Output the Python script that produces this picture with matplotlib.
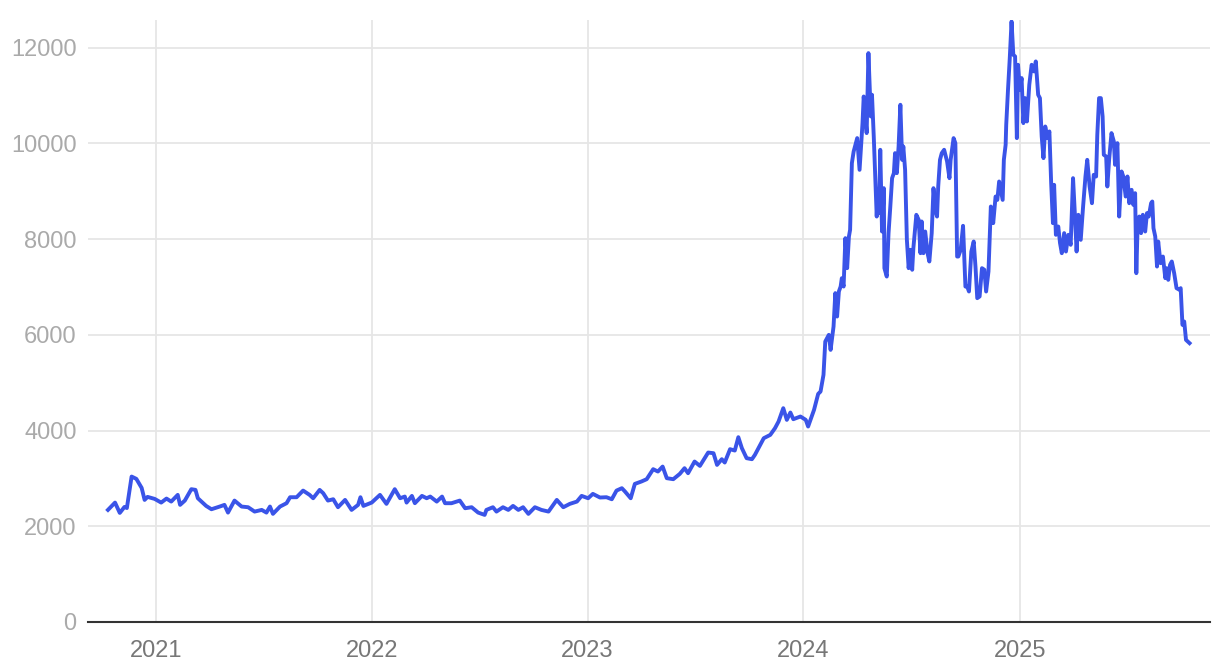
import matplotlib
matplotlib.use('Agg')
import matplotlib.pyplot as plt
import pandas as pd

# readings per year: month-day, value
days_2020 = ['10-12', '10-24', '11-01', '11-09', '11-13', '11-21', '11-29', '12-08', '12-13', '12-18', '12-30']
vals_2020 = [2341, 2494, 2278, 2404, 2380, 3038, 2990, 2801, 2550, 2613, 2571]

days_2021 = ['01-10', '01-19', '01-27', '02-07', '02-11', '02-19', '03-02', '03-09', '03-13', '03-27',
             '04-05', '04-19', '04-27', '05-03', '05-14', '05-26', '06-06', '06-17', '06-29', '07-07',
             '07-13', '07-18', '07-30', '08-10', '08-16', '08-27', '09-07', '09-18', '09-24', '10-05',
             '10-11', '10-19', '10-28', '11-05', '11-17', '11-28', '12-09', '12-13', '12-18']
vals_2021 = [2494, 2578, 2515, 2655, 2446, 2536, 2774, 2760, 2585, 2425,
             2355, 2411, 2446, 2285, 2536, 2411, 2397, 2306, 2341, 2285,
             2411, 2258, 2411, 2481, 2606, 2606, 2745, 2655, 2585, 2759,
             2690, 2536, 2564, 2397, 2550, 2341, 2446, 2606, 2425]

days_2022 = ['01-01', '01-15', '01-26', '02-09', '02-18', '02-26', '03-01', '03-10', '03-15', '03-27',
             '04-04', '04-10', '04-21', '04-30', '05-05', '05-16', '05-30', '06-08', '06-19', '06-30',
             '07-11', '07-14', '07-25', '07-31', '08-11', '08-20', '08-28', '09-06', '09-14', '09-23',
             '10-04', '10-15', '10-27', '11-10', '11-21', '12-02', '12-14', '12-22']
vals_2022 = [2494, 2655, 2467, 2774, 2585, 2620, 2494, 2634, 2481, 2634,
             2585, 2620, 2515, 2620, 2481, 2481, 2536, 2376, 2397, 2285,
             2237, 2341, 2397, 2306, 2397, 2341, 2425, 2341, 2397, 2258,
             2397, 2341, 2306, 2550, 2397, 2467, 2515, 2634]

days_2023 = ['01-02', '01-10', '01-22', '02-02', '02-11', '02-19', '02-28', '03-05', '03-15', '03-22',
             '04-02', '04-11', '04-22', '04-30', '05-08', '05-15', '05-26', '06-06', '06-14', '06-20',
             '07-01', '07-10', '07-24', '08-02', '08-08', '08-16', '08-21', '08-30', '09-07', '09-13',
             '09-19', '09-27', '10-06', '10-11', '10-26', '11-06', '11-14', '11-20', '11-28', '12-04',
             '12-10', '12-15', '12-27']
vals_2023 = [2585, 2676, 2600, 2606, 2564, 2745, 2795, 2730, 2585, 2885,
             2934, 2983, 3192, 3143, 3247, 3004, 2983, 3094, 3213, 3108,
             3352, 3261, 3540, 3526, 3282, 3401, 3331, 3610, 3582, 3861,
             3631, 3422, 3401, 3491, 3840, 3909, 4049, 4188, 4467, 4223,
             4376, 4237, 4293]

days_2024 = ['01-05', '01-09', '01-19', '01-26', '01-30', '02-04', '02-07', '02-13', '02-16', '02-21',
             '02-24', '02-27', '03-01', '03-04', '03-06', '03-09', '03-12', '03-15', '03-18', '03-20',
             '03-23', '03-26', '04-01', '04-05', '04-10', '04-12', '04-17', '04-20', '04-24', '04-26',
             '04-29', '05-04', '05-06', '05-08', '05-10', '05-13', '05-16', '05-17', '05-21', '05-24',
             '05-27', '05-30', '06-02', '06-04', '06-07', '06-10', '06-13', '06-16', '06-18', '06-21',
             '06-24', '06-27', '06-30', '07-03', '07-05', '07-10', '07-14', '07-17', '07-19', '07-22',
             '07-25', '07-29', '08-01', '08-05', '08-08', '08-11', '08-14', '08-16', '08-19', '08-22',
             '08-26', '08-31', '09-04', '09-06', '09-11', '09-14', '09-17', '09-19', '09-23', '09-27',
             '10-01', '10-04', '10-07', '10-11', '10-15', '10-18', '10-21', '10-25', '10-29', '11-02',
             '11-05', '11-09', '11-13', '11-17', '11-21', '11-24', '11-27', '12-03', '12-05', '12-08',
             '12-09', '12-12', '12-15', '12-18', '12-21', '12-24', '12-27', '12-29']
vals_2024 = [4223, 4084, 4432, 4766, 4815, 5164, 5860, 6000, 5686, 6174,
             6872, 6383, 6906, 7010, 7185, 7010, 8021, 7394, 8055, 8195,
             9589, 9832, 10112, 9449, 10426, 10982, 10217, 11889, 10565, 11018,
             10146, 8473, 9031, 8544, 9868, 8160, 9066, 7394, 7219, 8126,
             8682, 9275, 9380, 9798, 9380, 9937, 10809, 9658, 9937, 9449,
             7986, 7394, 7777, 7360, 7812, 8509, 8404, 7707, 8370, 7707,
             8160, 7707, 7533, 8126, 9066, 8613, 8473, 9101, 9658, 9798,
             9868, 9624, 9275, 9658, 10112, 10007, 7637, 7637, 7777, 8279,
             7010, 7010, 6906, 7742, 7951, 7428, 6767, 6802, 7394, 7360,
             6906, 7325, 8682, 8335, 8891, 8821, 9205, 8821, 9658, 9972,
             10390, 11122, 11785, 12550, 11854, 11820, 10112, 11645]

days_2025 = ['01-01', '01-04', '01-07', '01-10', '01-13', '01-17', '01-21', '01-25', '01-28', '02-01',
             '02-04', '02-07', '02-10', '02-13', '02-17', '02-20', '02-23', '02-26', '02-28', '03-03',
             '03-07', '03-10', '03-13', '03-17', '03-20', '03-24', '03-28', '04-01', '04-04', '04-07',
             '04-10', '04-14', '04-18', '04-22', '04-25', '04-29', '05-03', '05-06', '05-10', '05-12',
             '05-15', '05-18', '05-21', '05-23', '05-27', '05-29', '06-01', '06-05', '06-09', '06-11',
             '06-15', '06-18', '06-22', '06-25', '06-29', '07-02', '07-05', '07-09', '07-12', '07-15',
             '07-17', '07-19', '07-22', '07-25', '07-28', '08-01', '08-04', '08-07', '08-11', '08-13',
             '08-15', '08-18', '08-21', '08-23', '08-27', '08-31', '09-04', '09-06', '09-09', '09-12',
             '09-15', '09-19', '09-23', '09-28', '09-30', '10-03', '10-06', '10-09', '10-15']
vals_2025 = [11122, 11367, 10426, 10948, 10460, 11227, 11645, 11506, 11715, 11018,
             10948, 10146, 9694, 10355, 10112, 10251, 9171, 8335, 9136, 8091,
             8265, 7917, 7707, 8126, 7742, 8091, 7882, 9275, 8544, 7742,
             8509, 7986, 8682, 9310, 9658, 9101, 8752, 9345, 9310, 10181,
             10948, 10948, 10564, 9763, 9728, 9101, 9658, 10217, 10042, 9554,
             10007, 8473, 9415, 9310, 8891, 9310, 8752, 9031, 8717, 8961,
             7289, 8195, 8473, 8126, 8509, 8160, 8544, 8473, 8752, 8787,
             8230, 8056, 7428, 7951, 7498, 7637, 7185, 7394, 7150, 7463,
             7533, 7289, 6976, 6941, 6976, 6209, 6279, 5895, 5826]

years = [2020, 2021, 2022, 2023, 2024, 2025]
days = [days_2020, days_2021, days_2022, days_2023, days_2024, days_2025]
vals = [vals_2020, vals_2021, vals_2022, vals_2023, vals_2024, vals_2025]

dates = pd.to_datetime([f'{y}-{d}' for y, ds in zip(years, days) for d in ds])
values = [v for vs in vals for v in vs]

year_ticks = ['2021', '2022', '2023', '2024', '2025']
y_ticks = [0, 2000, 4000, 6000, 8000, 10000, 12000]

LINE = '#3A54E8'
GRID = '#e6e6e6'

plt.rcParams['font.family'] = ['Liberation Sans', 'DejaVu Sans']

fig = plt.figure(figsize=(12.2, 6.68), dpi=100)
ax = fig.add_axes([0.072, 0.069, 0.92, 0.901])

ax.plot(dates, values, color=LINE, lw=2.8, solid_joinstyle='round', zorder=3)

ax.set_xlim(pd.Timestamp('2020-09-08'), pd.Timestamp('2025-11-19'))
ax.set_ylim(0, max(values) + 30)

ax.set_xticks(pd.to_datetime([f'{y}-01-01' for y in year_ticks]))
ax.set_xticklabels(year_ticks)
ax.set_yticks(y_ticks)
ax.set_yticklabels([str(t) for t in y_ticks])

ax.grid(True, color=GRID, lw=1.3)
ax.set_axisbelow(True)
for s in ['top', 'right', 'left']:
    ax.spines[s].set_visible(False)
ax.spines['bottom'].set_color('#333333')
ax.spines['bottom'].set_linewidth(1.5)
ax.spines['bottom'].set_zorder(4)

ax.tick_params(axis='both', length=0, labelsize=17)
ax.tick_params(axis='y', colors='#aaaaaa', pad=8)
ax.tick_params(axis='x', colors='#777777', pad=13)

fig.savefig('out.png', dpi=100, facecolor='white')
